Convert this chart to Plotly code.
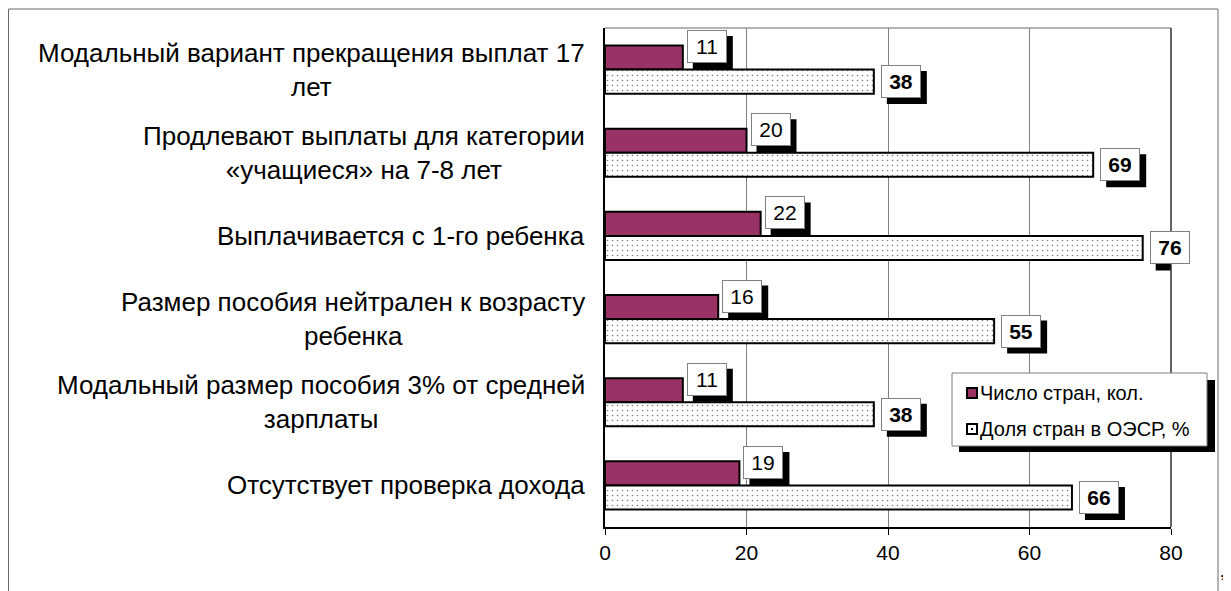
import plotly.graph_objects as go

# ---- data ----
categories = [
    "Модальный вариант прекращения выплат 17<br>лет",
    "Продлевают выплаты для категории<br>«учащиеся» на 7-8 лет",
    "Выплачивается с 1-го ребенка",
    "Размер пособия нейтрален к возрасту<br>ребенка",
    "Модальный размер пособия 3% от средней<br>зарплаты",
    "Отсутствует проверка дохода",
]
series_names = ["Число стран, кол.", "Доля стран в ОЭСР, %"]
count_values = [11, 20, 22, 16, 11, 19]
share_values = [38, 69, 76, 55, 38, 66]
x_ticks = [0, 20, 40, 60, 80]

# page body has an 8px margin: figure spans screen (8,8)-(1231,591)
OFF = 8
W, H = 1223, 583
L, R, T, B = 597, 60, 20, 64
PW, PH = W - L - R, H - T - B
FONT = "Liberation Sans, Arial, sans-serif"
PLUM = "#993366"


def px2x(px):  # screen px -> paper x
    return (px - OFF - L) / PW


def py2y(py):  # screen px -> paper y
    return (H - B - (py - OFF)) / PH


fig = go.Figure()
fig.add_trace(go.Bar(
    y=categories, x=count_values, orientation="h", name=series_names[0],
    marker=dict(color=PLUM, line=dict(color="black", width=2)),
    hoverinfo="x+name",
))
fig.add_trace(go.Bar(
    y=categories, x=share_values, orientation="h", name=series_names[1],
    marker=dict(color="white", line=dict(color="black", width=2),
                pattern=dict(shape=".", fgcolor="black", bgcolor="white",
                             size=5, solidity=0.08)),
    hoverinfo="x+name",
))

annotations = []
shapes = []
BOX_W, BOX_H, SH = 40, 33, 6


def value_label(val, cat, xshift, yshift, bold):
    txt = f"<b>{val}</b>" if bold else str(val)
    shapes.append(dict(type="rect", xref="x", yref="y",
                       xsizemode="pixel", ysizemode="pixel",
                       xanchor=val, yanchor=cat,
                       x0=xshift + SH, x1=xshift + SH + BOX_W,
                       y0=yshift - SH - BOX_H / 2, y1=yshift - SH + BOX_H / 2,
                       fillcolor="black", line=dict(width=0)))
    annotations.append(dict(x=val, y=cat, xref="x", yref="y", xanchor="left",
                            yanchor="middle", showarrow=False,
                            width=BOX_W - 4, height=BOX_H - 4,
                            borderpad=1, borderwidth=1, align="center",
                            text=txt, xshift=xshift, yshift=yshift,
                            bgcolor="white", bordercolor="#808080",
                            font=dict(family=FONT, size=21, color="black")))


for cat, v in zip(categories, count_values):
    value_label(v, cat, 4, 23, False)
for cat, v in zip(categories, share_values):
    value_label(v, cat, 7, -12, True)

# category labels (centered multi-line)
for cat in categories:
    annotations.append(dict(
        x=0, y=cat, xref="paper", yref="y", xanchor="right", yanchor="middle",
        xshift=-18, showarrow=False, text=cat, align="center",
        font=dict(family=FONT, size=26, color="black"),
    ))

# legend texts
annotations.append(dict(x=px2x(978), y=py2y(393), xref="paper", yref="paper",
                        xanchor="left", yanchor="middle", showarrow=False,
                        text=series_names[0], font=dict(family=FONT, size=20, color="black")))
annotations.append(dict(x=px2x(978), y=py2y(429), xref="paper", yref="paper",
                        xanchor="left", yanchor="middle", showarrow=False,
                        text=series_names[1], font=dict(family=FONT, size=20, color="black")))
# footnote asterisk (near the bottom-right corner, as in the source)
annotations.append(dict(x=px2x(1225), y=py2y(580), xref="paper", yref="paper",
                        xanchor="center", yanchor="middle", showarrow=False,
                        borderpad=0, text="<b>*</b>",
                        font=dict(family=FONT, size=20, color="black")))

# outer frame
shapes.append(dict(type="rect", xref="paper", yref="paper",
                   x0=px2x(8.5), x1=px2x(1218), y0=py2y(640), y1=py2y(9),
                   line=dict(color="#6a6a6a", width=1), fillcolor="rgba(0,0,0,0)",
                   layer="below"))
# plot area top & right border
shapes.append(dict(type="line", xref="paper", yref="paper", x0=0, x1=1, y0=1, y1=1,
                   line=dict(color="#9a9a9a", width=1.5)))
shapes.append(dict(type="line", xref="paper", yref="paper", x0=1, x1=1, y0=0, y1=1,
                   line=dict(color="#303030", width=1.5)))
# legend box with shadow
shapes.append(dict(type="rect", xref="paper", yref="paper",
                   x0=px2x(959), x1=px2x(1215), y0=py2y(452), y1=py2y(380),
                   line=dict(width=0), fillcolor="black"))
shapes.append(dict(type="rect", xref="paper", yref="paper",
                   x0=px2x(952), x1=px2x(1207), y0=py2y(446), y1=py2y(373),
                   line=dict(color="#808080", width=1), fillcolor="white"))
# legend symbols
shapes.append(dict(type="rect", xref="paper", yref="paper",
                   x0=px2x(967), x1=px2x(977), y0=py2y(398), y1=py2y(388),
                   line=dict(color="black", width=2), fillcolor=PLUM))
shapes.append(dict(type="rect", xref="paper", yref="paper",
                   x0=px2x(967), x1=px2x(977), y0=py2y(434), y1=py2y(424),
                   line=dict(color="black", width=2), fillcolor="white"))
shapes.append(dict(type="rect", xref="paper", yref="paper",
                   x0=px2x(971), x1=px2x(973), y0=py2y(430), y1=py2y(428),
                   line=dict(width=0), fillcolor="black"))

fig.update_layout(
    width=W, height=H,
    margin=dict(l=L, r=R, t=T, b=B, pad=0),
    paper_bgcolor="white", plot_bgcolor="white",
    barmode="group", bargap=0.42, bargroupgap=0,
    showlegend=False,
    font=dict(family=FONT, size=21, color="black"),
    xaxis=dict(range=[0, 80], tickvals=x_ticks, ticktext=[str(t) for t in x_ticks],
               showgrid=True, gridcolor="#808080", gridwidth=1,
               showline=True, linecolor="black", linewidth=1.5,
               ticks="outside", ticklen=6, tickcolor="black", tickwidth=1,
               tickfont=dict(family=FONT, size=21, color="black"),
               zeroline=False, fixedrange=True),
    yaxis=dict(autorange="reversed", showticklabels=False, showgrid=False,
               showline=True, linecolor="black", linewidth=1.5, ticks="",
               fixedrange=True),
    annotations=annotations,
    shapes=shapes,
)

fig.write_html("out.html")
